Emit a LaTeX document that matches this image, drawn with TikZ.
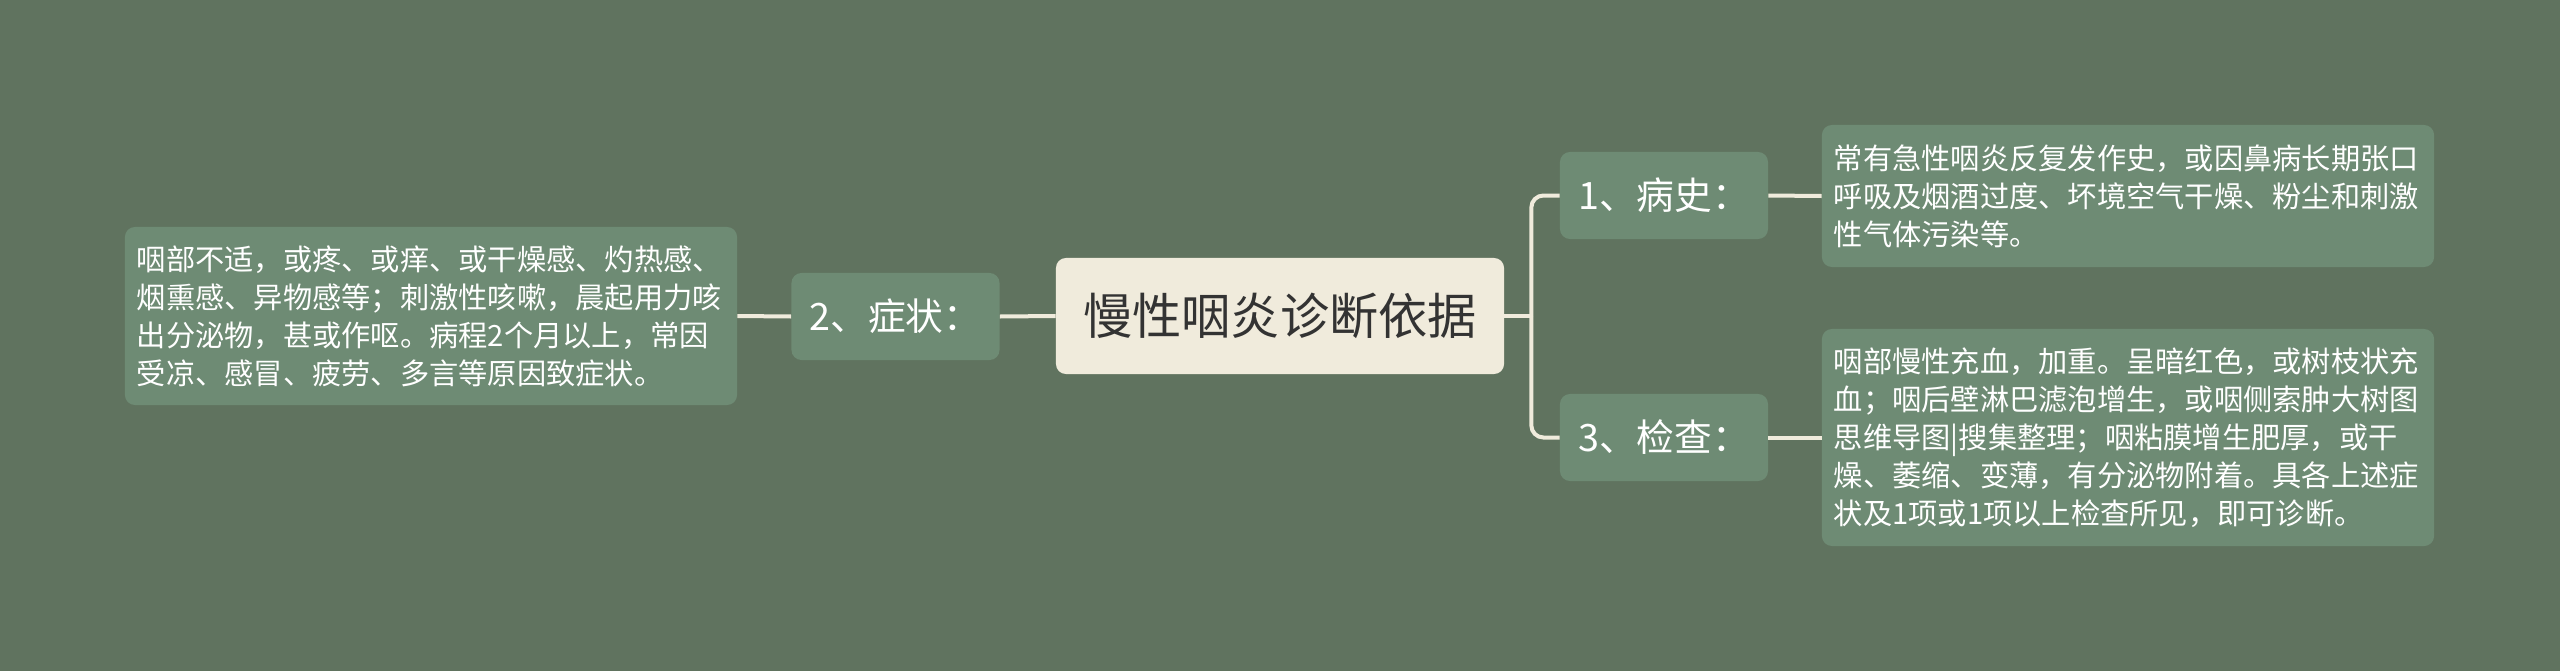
\documentclass[tikz,border=0pt]{standalone}
\usepackage{fontspec}
\setmainfont{Noto Sans CJK SC}
\definecolor{bgcol}{HTML}{60735F}
\definecolor{topiccol}{HTML}{6E8B74}
\definecolor{rootcol}{HTML}{F0EBDC}
\definecolor{linecol}{HTML}{F0EBDC}
\definecolor{roottext}{HTML}{333333}

\begin{document}
\begin{tikzpicture}[x=0.025cm,y=-0.025cm]
\tikzstyle{root}=[rectangle,rounded corners=0.25cm,fill=rootcol,text=roottext,minimum width=11.2cm,minimum height=2.9cm,font=\fontsize{35}{42}\selectfont]
\tikzstyle{topic}=[rectangle,rounded corners=0.25cm,fill=topiccol,text=white,minimum width=5.2cm,minimum height=2.175cm,font=\fontsize{26.8}{32}\selectfont]
\tikzstyle{leaf}=[rectangle,rounded corners=0.25cm,fill=topiccol,text=white,text width=14.7cm,inner xsep=0.3cm,align=left,font=\fontsize{20.8}{27}\selectfont]
\tikzstyle{link}=[draw=linecol,line width=0.1cm]

\fill[bgcol] (0,0) rectangle (2560,671);

\node[root] (root) at (1280,316) {慢性咽炎诊断依据};
\node[topic] (t2) at (895.5,316.5) {2、症状：};
\node[topic] (t1) at (1664,195.5) {1、病史：};
\node[topic] (t3) at (1664,437.5) {3、检查：};

\node[leaf,minimum height=4.45cm] (leafL) at (431,316) {咽部不适，或疼、或痒、或干燥感、灼热感、\\烟熏感、异物感等；刺激性咳嗽，晨起用力咳\\出分泌物，甚或作呕。病程2个月以上，常因\\受凉、感冒、疲劳、多言等原因致症状。};
\node[leaf,minimum height=3.55cm] (leaf1) at (2128,196) {常有急性咽炎反复发作史，或因鼻病长期张口\\呼吸及烟酒过度、坏境空气干燥、粉尘和刺激\\性气体污染等。};
\node[leaf,minimum height=5.425cm] (leaf3) at (2128,437.5) {咽部慢性充血，加重。呈暗红色，或树枝状充\\血；咽后壁淋巴滤泡增生，或咽侧索肿大树图\\思维导图|搜集整理；咽粘膜增生肥厚，或干\\燥、萎缩、变薄，有分泌物附着。具各上述症\\状及1项或1项以上检查所见，即可诊断。};

% left side
\draw[link] (leafL.east) -- (t2.west);
\draw[link] (t2.east) -- (root.west);

% right side
\path (root.east) ++(27,0) coordinate (fork);
\draw[link] (root.east) -- (fork);
\draw[link,rounded corners=0.3cm] (fork) |- (t1.west);
\draw[link,rounded corners=0.3cm] (fork) |- (t3.west);
\draw[link] (t1.east) -- (leaf1.west);
\draw[link] (t3.east) -- (leaf3.west);

\end{tikzpicture}
\end{document}
